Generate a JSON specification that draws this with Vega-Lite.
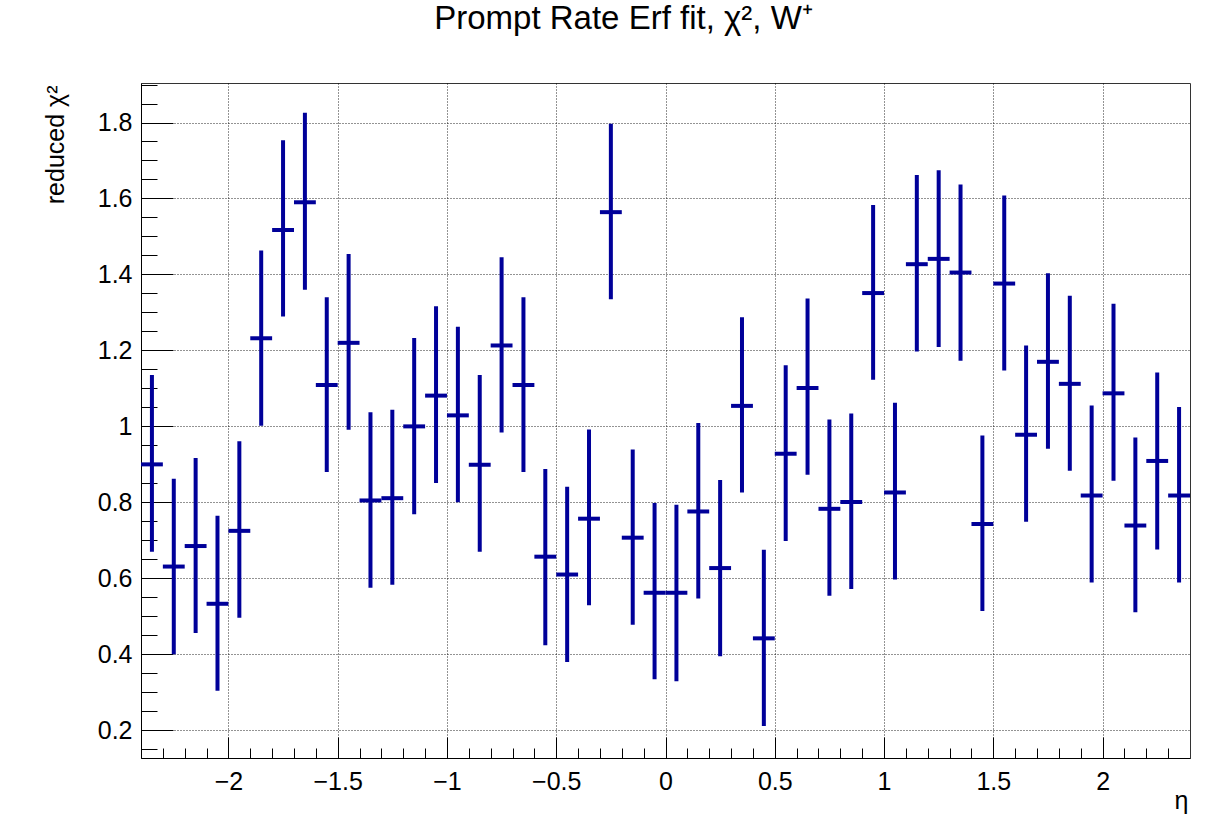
{
  "$schema": "https://vega.github.io/schema/vega-lite/v6.json",
  "width": 1049,
  "height": 675,
  "autosize": {"type": "none"},
  "padding": {"left": 141, "top": 83, "right": 26, "bottom": 71},
  "background": "white",
  "config": {
    "view": {"stroke": "#333333", "strokeWidth": 1},
    "font": "Liberation Sans"
  },
  "title": {
    "text": "Prompt Rate Erf fit, χ², W⁺",
    "font": "Liberation Sans",
    "fontSize": 33,
    "fontWeight": "normal",
    "color": "#000000",
    "anchor": "middle",
    "frame": "group",
    "dx": -42,
    "offset": 21,
    "baseline": "alphabetic"
  },
  "data": {
    "values": [
      {"eta": -2.35, "xlo": -2.4, "xhi": -2.3, "chi2": 0.900, "lo": 0.670, "hi": 1.135},
      {"eta": -2.25, "xlo": -2.3, "xhi": -2.2, "chi2": 0.631, "lo": 0.400, "hi": 0.862},
      {"eta": -2.15, "xlo": -2.2, "xhi": -2.1, "chi2": 0.685, "lo": 0.456, "hi": 0.917},
      {"eta": -2.05, "xlo": -2.1, "xhi": -2.0, "chi2": 0.533, "lo": 0.304, "hi": 0.765},
      {"eta": -1.95, "xlo": -2.0, "xhi": -1.9, "chi2": 0.725, "lo": 0.496, "hi": 0.961},
      {"eta": -1.85, "xlo": -1.9, "xhi": -1.8, "chi2": 1.232, "lo": 1.002, "hi": 1.463},
      {"eta": -1.75, "xlo": -1.8, "xhi": -1.7, "chi2": 1.517, "lo": 1.289, "hi": 1.753},
      {"eta": -1.65, "xlo": -1.7, "xhi": -1.6, "chi2": 1.590, "lo": 1.360, "hi": 1.826},
      {"eta": -1.55, "xlo": -1.6, "xhi": -1.5, "chi2": 1.109, "lo": 0.880, "hi": 1.340},
      {"eta": -1.45, "xlo": -1.5, "xhi": -1.4, "chi2": 1.220, "lo": 0.991, "hi": 1.454},
      {"eta": -1.35, "xlo": -1.4, "xhi": -1.3, "chi2": 0.805, "lo": 0.575, "hi": 1.037},
      {"eta": -1.25, "xlo": -1.3, "xhi": -1.2, "chi2": 0.811, "lo": 0.583, "hi": 1.044},
      {"eta": -1.15, "xlo": -1.2, "xhi": -1.1, "chi2": 1.000, "lo": 0.769, "hi": 1.233},
      {"eta": -1.05, "xlo": -1.1, "xhi": -1.0, "chi2": 1.081, "lo": 0.851, "hi": 1.316},
      {"eta": -0.95, "xlo": -1.0, "xhi": -0.9, "chi2": 1.029, "lo": 0.800, "hi": 1.262},
      {"eta": -0.85, "xlo": -0.9, "xhi": -0.8, "chi2": 0.899, "lo": 0.670, "hi": 1.135},
      {"eta": -0.75, "xlo": -0.8, "xhi": -0.7, "chi2": 1.213, "lo": 0.984, "hi": 1.445},
      {"eta": -0.65, "xlo": -0.7, "xhi": -0.6, "chi2": 1.109, "lo": 0.880, "hi": 1.340},
      {"eta": -0.55, "xlo": -0.6, "xhi": -0.5, "chi2": 0.657, "lo": 0.424, "hi": 0.888},
      {"eta": -0.45, "xlo": -0.5, "xhi": -0.4, "chi2": 0.610, "lo": 0.380, "hi": 0.841},
      {"eta": -0.35, "xlo": -0.4, "xhi": -0.3, "chi2": 0.757, "lo": 0.529, "hi": 0.992},
      {"eta": -0.25, "xlo": -0.3, "xhi": -0.2, "chi2": 1.564, "lo": 1.335, "hi": 1.797},
      {"eta": -0.15, "xlo": -0.2, "xhi": -0.1, "chi2": 0.707, "lo": 0.478, "hi": 0.939},
      {"eta": -0.05, "xlo": -0.1, "xhi": 0.0, "chi2": 0.562, "lo": 0.334, "hi": 0.798},
      {"eta": 0.05, "xlo": 0.0, "xhi": 0.1, "chi2": 0.562, "lo": 0.329, "hi": 0.794},
      {"eta": 0.15, "xlo": 0.1, "xhi": 0.2, "chi2": 0.776, "lo": 0.547, "hi": 1.009},
      {"eta": 0.25, "xlo": 0.2, "xhi": 0.3, "chi2": 0.627, "lo": 0.395, "hi": 0.859},
      {"eta": 0.35, "xlo": 0.3, "xhi": 0.4, "chi2": 1.054, "lo": 0.826, "hi": 1.287},
      {"eta": 0.45, "xlo": 0.4, "xhi": 0.5, "chi2": 0.442, "lo": 0.211, "hi": 0.675},
      {"eta": 0.55, "xlo": 0.5, "xhi": 0.6, "chi2": 0.928, "lo": 0.698, "hi": 1.161},
      {"eta": 0.65, "xlo": 0.6, "xhi": 0.7, "chi2": 1.101, "lo": 0.873, "hi": 1.337},
      {"eta": 0.75, "xlo": 0.7, "xhi": 0.8, "chi2": 0.783, "lo": 0.554, "hi": 1.018},
      {"eta": 0.85, "xlo": 0.8, "xhi": 0.9, "chi2": 0.801, "lo": 0.572, "hi": 1.034},
      {"eta": 0.95, "xlo": 0.9, "xhi": 1.0, "chi2": 1.351, "lo": 1.123, "hi": 1.583},
      {"eta": 1.05, "xlo": 1.0, "xhi": 1.1, "chi2": 0.826, "lo": 0.597, "hi": 1.062},
      {"eta": 1.15, "xlo": 1.1, "xhi": 1.2, "chi2": 1.427, "lo": 1.197, "hi": 1.662},
      {"eta": 1.25, "xlo": 1.2, "xhi": 1.3, "chi2": 1.441, "lo": 1.209, "hi": 1.674},
      {"eta": 1.35, "xlo": 1.3, "xhi": 1.4, "chi2": 1.405, "lo": 1.173, "hi": 1.637},
      {"eta": 1.45, "xlo": 1.4, "xhi": 1.5, "chi2": 0.743, "lo": 0.514, "hi": 0.976},
      {"eta": 1.55, "xlo": 1.5, "xhi": 1.6, "chi2": 1.376, "lo": 1.147, "hi": 1.608},
      {"eta": 1.65, "xlo": 1.6, "xhi": 1.7, "chi2": 0.978, "lo": 0.749, "hi": 1.213},
      {"eta": 1.75, "xlo": 1.7, "xhi": 1.8, "chi2": 1.170, "lo": 0.941, "hi": 1.403},
      {"eta": 1.85, "xlo": 1.8, "xhi": 1.9, "chi2": 1.112, "lo": 0.883, "hi": 1.344},
      {"eta": 1.95, "xlo": 1.9, "xhi": 2.0, "chi2": 0.818, "lo": 0.589, "hi": 1.055},
      {"eta": 2.05, "xlo": 2.0, "xhi": 2.1, "chi2": 1.087, "lo": 0.857, "hi": 1.323},
      {"eta": 2.15, "xlo": 2.1, "xhi": 2.2, "chi2": 0.739, "lo": 0.511, "hi": 0.971},
      {"eta": 2.25, "xlo": 2.2, "xhi": 2.3, "chi2": 0.909, "lo": 0.676, "hi": 1.142},
      {"eta": 2.35, "xlo": 2.3, "xhi": 2.4, "chi2": 0.818, "lo": 0.589, "hi": 1.051}
    ]
  },
  "layer": [
    {
      "mark": {"type": "rule", "color": "#000099", "strokeWidth": 4, "strokeCap": "butt"},
      "encoding": {
        "x": {
          "field": "eta",
          "type": "quantitative",
          "scale": {"domain": [-2.4, 2.4], "nice": false, "zero": false},
          "axis": {
            "orient": "bottom",
            "values": [-2, -1.5, -1, -0.5, 0, 0.5, 1, 1.5, 2],
            "format": "~g",
            "ticks": false,
            "grid": true,
            "gridDash": [1, 2],
            "gridColor": "#000000",
            "gridOpacity": 0.85,
            "gridWidth": 1,
            "domain": true,
            "domainColor": "#000000",
            "domainWidth": 1,
            "labelFont": "Liberation Sans",
            "labelFontSize": 25,
            "labelColor": "#000000",
            "labelPadding": 11,
            "labelFlush": false,
            "labelOverlap": false,
            "title": "η",
            "titleFont": "Liberation Sans",
            "titleFontSize": 25,
            "titleFontWeight": "normal",
            "titleColor": "#000000",
            "titleX": 1047,
            "titleY": 50,
            "titleAlign": "right",
            "titleBaseline": "alphabetic"
          }
        },
        "y": {
          "field": "lo",
          "type": "quantitative",
          "scale": {"domain": [0.127, 1.904], "nice": false, "zero": false},
          "axis": {
            "orient": "left",
            "values": [0.2, 0.4, 0.6, 0.8, 1, 1.2, 1.4, 1.6, 1.8],
            "format": "~g",
            "ticks": false,
            "grid": true,
            "gridDash": [1, 2],
            "gridColor": "#000000",
            "gridOpacity": 0.85,
            "gridWidth": 1,
            "domain": true,
            "domainColor": "#000000",
            "domainWidth": 1,
            "labelFont": "Liberation Sans",
            "labelFontSize": 25,
            "labelColor": "#000000",
            "labelPadding": 9,
            "labelOverlap": false,
            "title": "reduced χ²",
            "titleFont": "Liberation Sans",
            "titleFontSize": 25,
            "titleFontWeight": "normal",
            "titleColor": "#000000",
            "titleAngle": 270,
            "titleX": -78,
            "titleY": 2,
            "titleAlign": "right",
            "titleBaseline": "alphabetic"
          }
        },
        "y2": {"field": "hi"}
      }
    },
    {
      "mark": {"type": "rule", "color": "#000099", "strokeWidth": 4, "strokeCap": "butt"},
      "encoding": {
        "x": {
          "field": "xlo",
          "type": "quantitative",
          "axis": {
            "orient": "bottom",
            "values": [-2, -1.5, -1, -0.5, 0, 0.5, 1, 1.5, 2],
            "labels": false,
            "grid": false,
            "domain": false,
            "ticks": true,
            "tickSize": -21,
            "tickColor": "#000000",
            "tickWidth": 1,
            "title": null
          }
        },
        "x2": {"field": "xhi"},
        "y": {
          "field": "chi2",
          "type": "quantitative",
          "axis": {
            "orient": "left",
            "values": [0.2, 0.4, 0.6, 0.8, 1, 1.2, 1.4, 1.6, 1.8],
            "labels": false,
            "grid": false,
            "domain": false,
            "ticks": true,
            "tickSize": -32,
            "tickColor": "#000000",
            "tickWidth": 1,
            "title": null
          }
        }
      }
    },
    {
      "mark": {"type": "point", "opacity": 0},
      "encoding": {
        "x": {
          "field": "eta",
          "type": "quantitative",
          "axis": {
            "orient": "bottom",
            "values": [-2.3, -2.2, -2.1, -1.9, -1.8, -1.7, -1.6, -1.4, -1.3, -1.2, -1.1, -0.9, -0.8, -0.7, -0.6, -0.4, -0.3, -0.2, -0.1, 0.1, 0.2, 0.3, 0.4, 0.6, 0.7, 0.8, 0.9, 1.1, 1.2, 1.3, 1.4, 1.6, 1.7, 1.8, 1.9, 2.1, 2.2, 2.3],
            "labels": false,
            "grid": false,
            "domain": false,
            "ticks": true,
            "tickSize": -10,
            "tickColor": "#000000",
            "tickWidth": 1,
            "title": null
          }
        },
        "y": {
          "field": "chi2",
          "type": "quantitative",
          "axis": {
            "orient": "left",
            "values": [0.15, 0.25, 0.3, 0.35, 0.45, 0.5, 0.55, 0.65, 0.7, 0.75, 0.85, 0.9, 0.95, 1.05, 1.1, 1.15, 1.25, 1.3, 1.35, 1.45, 1.5, 1.55, 1.65, 1.7, 1.75, 1.85, 1.9],
            "labels": false,
            "grid": false,
            "domain": false,
            "ticks": true,
            "tickSize": -16,
            "tickColor": "#000000",
            "tickWidth": 1,
            "title": null
          }
        }
      }
    }
  ],
  "resolve": {"axis": {"x": "independent", "y": "independent"}}
}
